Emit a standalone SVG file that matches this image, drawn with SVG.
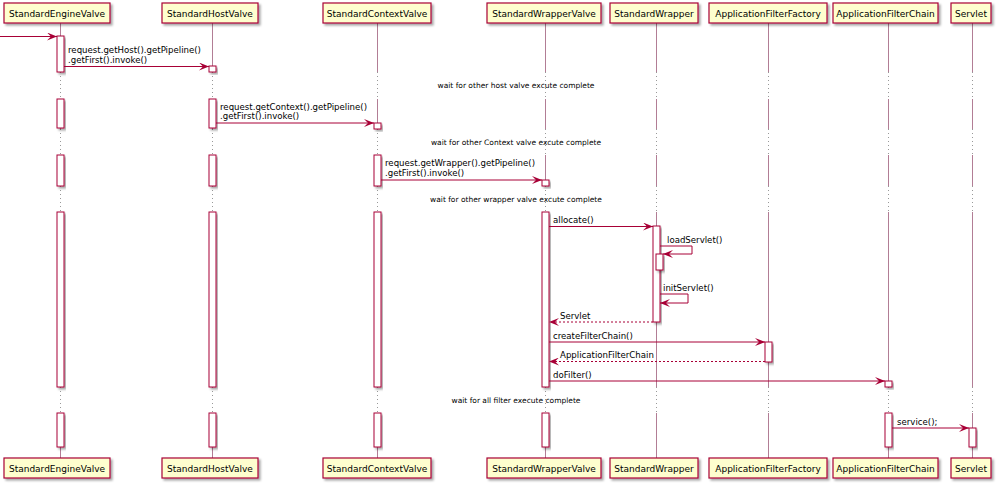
<svg xmlns="http://www.w3.org/2000/svg" width="998" height="486" viewBox="0 0 998 486">
<defs>
<filter id="sh" x="-20%" y="-20%" width="140%" height="160%">
<feDropShadow dx="2" dy="2" stdDeviation="1" flood-color="#000" flood-opacity="0.35"/>
</filter>
<marker id="ah" viewBox="0 0 10 8" refX="10" refY="4" markerWidth="10" markerHeight="8" markerUnits="userSpaceOnUse" orient="auto">
<polygon points="0,0 10,4 0,8 4,4" fill="#A80036"/>
</marker>
<style>
.box{fill:#FEFECE;stroke:#A80036;stroke-width:1.2;filter:url(#sh)}
.act{fill:#FFFFFF;stroke:#A80036;stroke-width:1;filter:url(#sh)}
.life{stroke:#B27D95;stroke-width:1;fill:none}
.dly{stroke:#999;stroke-width:1;stroke-dasharray:1,3;fill:none}
.pn{font-family:"DejaVu Sans",sans-serif;font-size:9px;fill:#000;text-anchor:middle}
.msg{font-family:"DejaVu Sans",sans-serif;font-size:8.6px;fill:#000}
.dt{font-family:"DejaVu Sans",sans-serif;font-size:7.5px;fill:#000;text-anchor:middle}
.ar{stroke:#A80036;stroke-width:1;fill:none;marker-end:url(#ah)}
.rt{stroke:#A80036;stroke-width:1;fill:none;stroke-dasharray:2,2;marker-end:url(#ah)}
</style>
</defs>
<rect width="998" height="486" fill="#FFFFFF"/>

<g id="lifelines">
<path class="life" d="M60.5,23V72M60.5,99V129M60.5,155V186M60.5,212V387M60.5,413V458"/>
<path class="life" d="M212.5,23V72M212.5,99V129M212.5,155V186M212.5,212V387M212.5,413V458"/>
<path class="life" d="M377.5,23V72M377.5,99V129M377.5,155V186M377.5,212V387M377.5,413V458"/>
<path class="life" d="M545.5,23V72M545.5,99V129M545.5,155V186M545.5,212V387M545.5,413V458"/>
<path class="life" d="M656.5,23V72M656.5,99V129M656.5,155V186M656.5,212V387M656.5,413V458"/>
<path class="life" d="M768.5,23V72M768.5,99V129M768.5,155V186M768.5,212V387M768.5,413V458"/>
<path class="life" d="M888.5,23V72M888.5,99V129M888.5,155V186M888.5,212V387M888.5,413V458"/>
<path class="life" d="M972.5,23V72M972.5,99V129M972.5,155V186M972.5,212V387M972.5,413V458"/>
<path class="dly" d="M60.5,72V99M60.5,129V155M60.5,186V212M60.5,387V413"/>
<path class="dly" d="M212.5,72V99M212.5,129V155M212.5,186V212M212.5,387V413"/>
<path class="dly" d="M377.5,72V99M377.5,129V155M377.5,186V212M377.5,387V413"/>
<path class="dly" d="M545.5,72V99M545.5,129V155M545.5,186V212M545.5,387V413"/>
<path class="dly" d="M656.5,72V99M656.5,129V155M656.5,186V212M656.5,387V413"/>
<path class="dly" d="M768.5,72V99M768.5,129V155M768.5,186V212M768.5,387V413"/>
<path class="dly" d="M888.5,72V99M888.5,129V155M888.5,186V212M888.5,387V413"/>
<path class="dly" d="M972.5,72V99M972.5,129V155M972.5,186V212M972.5,387V413"/>
</g>

<g id="StandardEngineValve">
<rect class="box" x="4" y="3" width="106" height="20"/>
<text class="pn" x="57" y="16.5">StandardEngineValve</text>
<rect class="box" x="4" y="458" width="106" height="20"/>
<text class="pn" x="57" y="471.5">StandardEngineValve</text>
<rect class="act" x="57" y="36" width="7" height="36"/>
<rect class="act" x="57" y="99" width="7" height="29"/>
<rect class="act" x="57" y="155" width="7" height="31"/>
<rect class="act" x="57" y="212" width="7" height="175"/>
<rect class="act" x="57" y="413" width="7" height="34"/>
</g>

<g id="StandardHostValve">
<rect class="box" x="162" y="3" width="96" height="20"/>
<text class="pn" x="210" y="16.5">StandardHostValve</text>
<rect class="box" x="162" y="458" width="96" height="20"/>
<text class="pn" x="210" y="471.5">StandardHostValve</text>
<rect class="act" x="209" y="66" width="7" height="6"/>
<rect class="act" x="209" y="99" width="7" height="29"/>
<rect class="act" x="209" y="155" width="7" height="31"/>
<rect class="act" x="209" y="212" width="7" height="175"/>
<rect class="act" x="209" y="413" width="7" height="34"/>
</g>

<g id="StandardContextValve">
<rect class="box" x="323" y="3" width="108" height="20"/>
<text class="pn" x="377" y="16.5">StandardContextValve</text>
<rect class="box" x="323" y="458" width="108" height="20"/>
<text class="pn" x="377" y="471.5">StandardContextValve</text>
<rect class="act" x="374" y="123" width="7" height="6"/>
<rect class="act" x="374" y="155" width="7" height="31"/>
<rect class="act" x="374" y="212" width="7" height="175"/>
<rect class="act" x="374" y="413" width="7" height="34"/>
</g>

<g id="StandardWrapperValve">
<rect class="box" x="487" y="3" width="114" height="20"/>
<text class="pn" x="544" y="16.5">StandardWrapperValve</text>
<rect class="box" x="487" y="458" width="114" height="20"/>
<text class="pn" x="544" y="471.5">StandardWrapperValve</text>
<rect class="act" x="542" y="180" width="7" height="6"/>
<rect class="act" x="542" y="212" width="7" height="175"/>
<rect class="act" x="542" y="413" width="7" height="34"/>
</g>

<g id="StandardWrapper">
<rect class="box" x="610" y="3" width="88" height="20"/>
<text class="pn" x="654" y="16.5">StandardWrapper</text>
<rect class="box" x="610" y="458" width="88" height="20"/>
<text class="pn" x="654" y="471.5">StandardWrapper</text>
<rect class="act" x="653" y="226" width="7" height="96"/>
<rect class="act" x="656" y="254" width="7" height="16"/>
</g>

<g id="ApplicationFilterFactory">
<rect class="box" x="709" y="3" width="118" height="20"/>
<text class="pn" x="768" y="16.5">ApplicationFilterFactory</text>
<rect class="box" x="709" y="458" width="118" height="20"/>
<text class="pn" x="768" y="471.5">ApplicationFilterFactory</text>
<rect class="act" x="765" y="342" width="7" height="20"/>
</g>

<g id="ApplicationFilterChain">
<rect class="box" x="833" y="3" width="105" height="20"/>
<text class="pn" x="885.5" y="16.5">ApplicationFilterChain</text>
<rect class="box" x="833" y="458" width="105" height="20"/>
<text class="pn" x="885.5" y="471.5">ApplicationFilterChain</text>
<rect class="act" x="885" y="381" width="7" height="6"/>
<rect class="act" x="885" y="413" width="7" height="34"/>
</g>

<g id="Servlet">
<rect class="box" x="951" y="3" width="40" height="20"/>
<text class="pn" x="971" y="16.5">Servlet</text>
<rect class="box" x="951" y="458" width="40" height="20"/>
<text class="pn" x="971" y="471.5">Servlet</text>
<rect class="act" x="969" y="428" width="7" height="19"/>
</g>

<g id="connectors">
<line class="ar" x1="0" y1="36.5" x2="57" y2="36.5"/>
<line class="ar" x1="64" y1="66.5" x2="209" y2="66.5"/>
<line class="ar" x1="216" y1="123" x2="374" y2="123"/>
<line class="ar" x1="381" y1="180" x2="542" y2="180"/>
<line class="ar" x1="549" y1="226.5" x2="653" y2="226.5"/>
<path class="ar" d="M660,246H692V254H663"/>
<path class="ar" d="M660,294H688V303H660"/>
<line class="rt" x1="653" y1="322" x2="549" y2="322"/>
<line class="ar" x1="549" y1="342" x2="765" y2="342"/>
<line class="rt" x1="765" y1="361.5" x2="549" y2="361.5"/>
<line class="ar" x1="549" y1="381" x2="885" y2="381"/>
<line class="ar" x1="892" y1="428" x2="969" y2="428"/>
</g>

<g id="labels">
<text class="msg" x="68" y="53">request.getHost().getPipeline()</text>
<text class="msg" x="68" y="62.5">.getFirst().invoke()</text>
<text class="msg" x="220" y="109.5">request.getContext().getPipeline()</text>
<text class="msg" x="220" y="119">.getFirst().invoke()</text>
<text class="msg" x="385" y="166">request.getWrapper().getPipeline()</text>
<text class="msg" x="385" y="175.5">.getFirst().invoke()</text>
<text class="msg" x="553" y="223">allocate()</text>
<text class="msg" x="667" y="243">loadServlet()</text>
<text class="msg" x="663" y="291">initServlet()</text>
<text class="msg" x="560" y="319">Servlet</text>
<text class="msg" x="553" y="339">createFilterChain()</text>
<text class="msg" x="560" y="358">ApplicationFilterChain</text>
<text class="msg" x="553" y="377.5">doFilter()</text>
<text class="msg" x="897" y="424.5">service();</text>
<text class="dt" x="516" y="88">wait for other host valve excute complete</text>
<text class="dt" x="516" y="145">wait for other Context valve excute complete</text>
<text class="dt" x="516" y="202">wait for other wrapper valve excute complete</text>
<text class="dt" x="516" y="403">wait for all filter execute complete</text>
</g>
</svg>
